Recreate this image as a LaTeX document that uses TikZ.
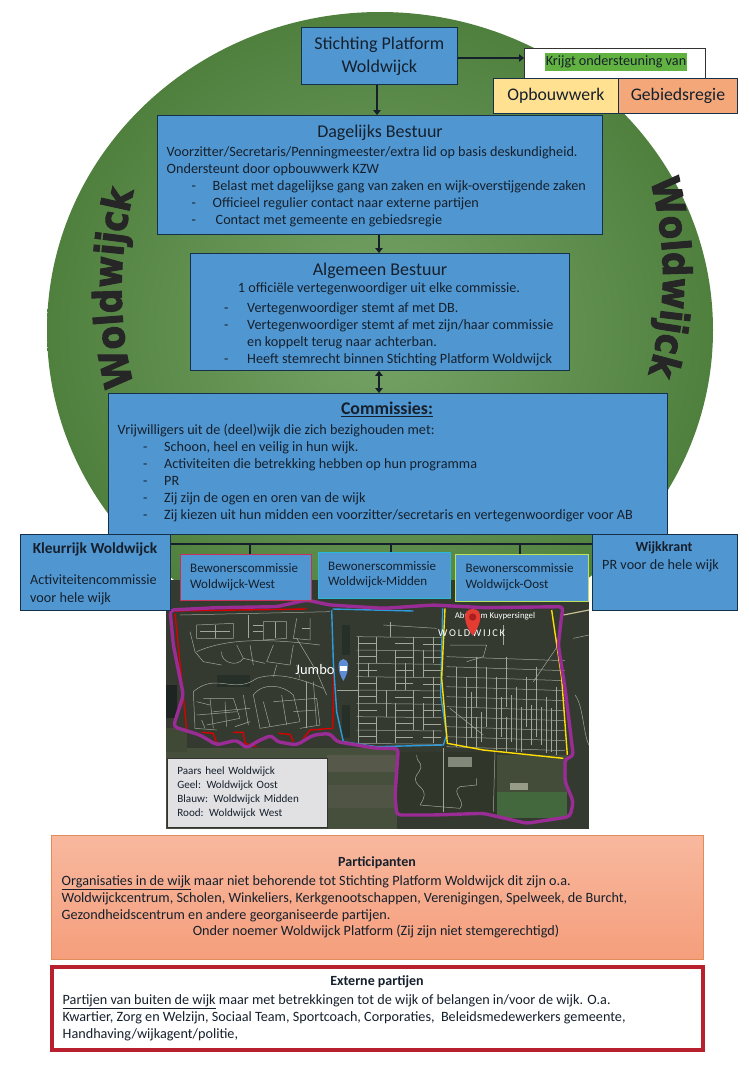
\documentclass[tikz,border=0pt]{standalone}
\usepackage{fontspec}
\setmainfont{Carlito}
\newfontfamily\wafont{DejaVu Sans Bold}[FakeStretch=.88,FakeBold=2.5]
\usetikzlibrary{arrows.meta,decorations.text}
\definecolor{boxblue}{HTML}{5097D2}
\definecolor{boxedge}{HTML}{14304A}
\definecolor{inktext}{HTML}{16202C}
\definecolor{purpleline}{HTML}{9A2C96}
\definecolor{streetc}{HTML}{A2A79A}
\tikzset{
 bluebox/.style={draw=boxedge,line width=.8pt,fill=boxblue,inner sep=0pt,rectangle},
 blk/.style={text=inktext,inner sep=0pt,align=left,anchor=north west,font=\fontsize{14.2}{17}\selectfont},
 ctr/.style={text=inktext,inner sep=0pt,align=center,font=\fontsize{18}{23}\selectfont},
 conn/.style={draw=inktext,line width=2.8pt,-{Triangle[length=5pt,width=7.5pt]}},
 barline/.style={draw=inktext,line width=2.6pt},
 street/.style={draw=streetc,line width=.5pt,line join=round},
 area/.style={purpleline,line width=3.4pt,line join=round,rounded corners=4pt},
}
\newcommand{\dsh}[1]{\makebox[#1][l]{-}}
\begin{document}
\begin{tikzpicture}[x=1pt,y=-1pt]
\useasboundingbox (0,0) rectangle (749,1080);
\fill[white] (0,0) rectangle (749,1080);
% green disc
\shade[inner color={rgb,255:red,118;green,164;blue,104},outer color={rgb,255:red,80;green,128;blue,62}] (380,330) ellipse [x radius=333,y radius=318];
% WordArt text
\path[decorate,decoration={text along path,text align=center,text={|\fontsize{39}{39}\wafont\color{black!85}|Woldwijck}}] (135,390) .. controls (117,325) and (117,255) .. (135,186);
\path[decorate,decoration={text along path,text align=center,text={|\fontsize{39}{39}\wafont\color{black!85}|Woldwijck}}] (649,176) .. controls (668,245) and (668,310) .. (647,378);
% Map
\begin{scope}[xshift=150pt,yshift=-595pt,x=.33333pt,y=-.33333pt]
\clip (48,-45) rectangle (1317,702);
\fill[fill={rgb,255:red,52;green,58;blue,47}] (48,-45) rectangle (1317,702);
% fields south
\fill[fill={rgb,255:red,70;green,78;blue,60}] (48,460) rectangle (740,702);
\fill[fill={rgb,255:red,86;green,88;blue,74}] (530,480) rectangle (740,530);
\fill[fill={rgb,255:red,80;green,84;blue,68}] (530,570) rectangle (740,640);
\fill[fill={rgb,255:red,64;green,72;blue,54}] (48,400) rectangle (110,470);
\fill[fill={rgb,255:red,48;green,54;blue,42}] (740,470) rectangle (1040,660);
\fill[fill={rgb,255:red,68;green,104;blue,62}] (1040,590) rectangle (1250,670);
\fill[fill={rgb,255:red,66;green,76;blue,56}] (1040,480) rectangle (1250,590);
\fill[fill={rgb,255:red,130;green,136;blue,122}] (895,485) rectangle (965,515);
\fill[fill={rgb,255:red,150;green,156;blue,136}] (1080,565) rectangle (1135,585);
\fill[fill={rgb,255:red,30;green,36;blue,34}] (48,270) rectangle (80,370);
\fill[fill={rgb,255:red,38;green,48;blue,40}] (200,240) rectangle (300,275);
\fill[fill={rgb,255:red,38;green,48;blue,40}] (575,90) rectangle (600,180);
\fill[fill={rgb,255:red,38;green,48;blue,40}] (575,330) rectangle (600,430);
% west streets
\draw[street] (90,60) -- (540,50);
\draw[street] (140,170) .. controls (230,130) and (350,130) .. (510,150);
\draw[street] (215,170) .. controls (210,200) and (260,220) .. (280,190) -- (260,150);
\draw[street] (140,90) -- (250,85) -- (250,130) -- (140,130) -- cycle;
\draw[street] (340,80) -- (410,80) -- (410,130) -- (340,135) -- cycle;
\draw[street] (440,70) -- (430,130) -- (480,135) -- (480,70);
\draw[street] (295,60) -- (295,130);
\draw[street] (370,150) -- (350,200) -- (420,210) -- (430,150);
\draw[street] (130,290) .. controls (200,230) and (250,300) .. (320,250) .. controls (380,230) and (450,250) .. (520,280);
\draw[street] (130,290) -- (135,400) -- (200,405);
\draw[street] (160,310) -- (250,310) -- (270,370) -- (170,390);
\draw[street] (310,300) .. controls (340,260) and (400,270) .. (430,300) -- (450,380) -- (330,400) -- cycle;
\draw[street] (190,350) -- (300,340);
\draw[street] (370,320) -- (500,310) -- (510,390) -- (450,400);
\draw[street] (180,310) -- (190,400);
\draw[street] (225,320) -- (230,395);
\draw[street] (470,260) -- (470,400);
\draw[street] (120,110) -- (135,170) -- (160,200) -- (215,210);
\draw[street] (280,190) -- (345,205);
\draw[street] (440,130) -- (500,230) -- (530,300);
\draw[street] (140,320) -- (180,330) (140,360) -- (260,350) (155,375) -- (165,400) (280,300) -- (295,390) (255,395) -- (300,380);
\draw[street] (340,320) -- (360,395) (395,300) -- (410,390) (430,350) -- (500,345) (490,260) -- (500,390);
\draw[street] (310,90) -- (340,90) (310,110) -- (340,110) (150,110) -- (240,110) (195,90) -- (195,130) (375,80) -- (375,130) (455,100) -- (480,100);
\draw[street] (300,150) -- (310,210) (380,210) -- (370,245) (440,210) -- (450,250);
% middle streets
\foreach \yy in {125,165,205,245,285,325,365,405,445} \draw[street] (620,\yy) -- (875,\yy+3);
\foreach \yy in {145,185,225,265,305,345,385,425} \draw[street] (625,\yy) -- (680,\yy) (735,\yy+1) -- (790,\yy+1) (820,\yy+2) -- (872,\yy+2);
\foreach \xx/\ya/\yb in {625/125/445,680/125/205,680/245/325,680/365/445,735/165/285,735/325/445,790/125/245,790/285/405,850/125/205,850/245/365,850/405/445,655/205/245,710/285/365,765/205/285,820/325/405,820/165/245} \draw[street] (\xx,\ya) -- (\xx,\yb);
\draw[street] (560,285) -- (625,285);
\draw[street] (700,90) -- (860,100);
\draw[street] (720,80) -- (720,125);
\draw[street] (800,480) .. controls (800,510) and (830,500) .. (800,540) .. controls (780,580) and (850,570) .. (810,630) -- (930,640) .. controls (950,620) and (900,590) .. (930,575) -- (980,570) -- (980,550);
\draw[street] (880,460) -- (880,650);
\draw[street] (1035,470) -- (1030,650);
% east streets
\foreach \yy in {185,215,245,275,305,335,365,395,425,455} \draw[street] (890,\yy) -- (1245,\yy+12);
\foreach \xx/\ya/\yb in {920/215/455,950/245/455,980/185/335,980/365/455,1010/215/395,1040/245/465,1070/185/335,1070/365/470,1100/275/470,1130/245/395,1160/215/425,1190/305/475,1220/275/480,1115/335/470,1175/335/450,1055/305/425,1145/330/450,1205/340/470,1085/300/440,995/350/440,965/290/430} \draw[street] (\xx,\ya) -- (\xx,\yb);
\draw[street] (900,150) -- (1010,150) -- (1000,185) -- (950,200);
\draw[street] (1150,260) -- (1225,150);
\draw[street] (900,340) -- (1000,420);
\draw[street] (1060,90) -- (1060,150);
\draw[street] (1270,130) -- (1317,120);
\draw[street] (1275,300) .. controls (1300,330) and (1300,420) .. (1317,450);
\draw[draw={rgb,255:red,200;green,190;blue,150},line width=1.2pt] (1240,60) -- (1317,45);
% coloured boundaries
\draw[red!85!black,line width=1.4pt] (60,48) -- (470,42);
\draw[red!85!black,line width=1.4pt] (75,55) -- (110,405);
\draw[red!85!black,line width=1.4pt] (552,230) -- (548,400) -- (480,405) -- (460,430);
\draw[red!85!black,line width=1.4pt] (155,412) -- (190,415) -- (200,445) (250,412) -- (280,412) -- (285,445) -- (320,455) (385,415) -- (420,418) -- (430,440);
\draw[cyan!75!blue!85!white,line width=1.4pt] (548,42) -- (790,48);
\draw[cyan!75!blue!85!white,line width=1.4pt] (545,45) -- (550,200) -- (560,350) -- (580,440) -- (680,455) -- (880,450) -- (890,420) -- (872,300) -- (878,40);
\draw[yellow!80!orange,line width=1.4pt] (885,40) -- (875,250) -- (892,445) -- (1000,465) -- (1240,490);
\draw[yellow!80!orange,line width=1.4pt] (1205,45) -- (1235,250) -- (1252,480);
% labels on the map
\node[text=white,inner sep=0pt,font=\fontsize{14.5}{14.5}\selectfont] (jumbolabel) at (495,225) {Jumbo};
\node[text=white,inner sep=0pt,font=\fontsize{8.8}{10}\selectfont] (streetlabel) at (1035,65) {Abraham Kuypersingel};
\node[text=white,inner sep=0pt,font=\fontsize{10.4}{10}\selectfont] (wijklabel) at (965,115) {W\,O\,L\,D\,W\,I\,J\,C\,K};
\fill[fill={rgb,255:red,92;green,140;blue,214}] (580,258) .. controls (560,225) and (562,192) .. (580,192) .. controls (598,192) and (600,225) .. (580,258);
\fill[fill=white] (570,212) rectangle (590,228);
\fill[fill={rgb,255:red,228;green,60;blue,50}] (968,122) .. controls (940,85) and (935,42) .. (968,42) .. controls (1001,42) and (996,85) .. (968,122);
\fill[fill={rgb,255:red,170;green,30;blue,30}] (968,66) circle [radius=11];
% purple boundary
\draw[area] (60,45) -- (200,38) -- (380,35) -- (470,15) -- (540,30) -- (700,40) -- (850,30) -- (1000,38) -- (1240,35) -- (1235,60) -- (1225,150) -- (1245,280) -- (1260,400) -- (1270,485) -- (1245,490) -- (1245,560) -- (1270,620) -- (1260,665) -- (1130,685) -- (1000,655) -- (850,660) -- (740,660) -- (735,600) -- (745,460) -- (680,460) -- (560,440) -- (540,415) -- (490,420) -- (440,450) -- (380,440) -- (365,420) -- (320,440) -- (290,460) -- (260,435) -- (200,450) -- (150,420) -- (70,395) -- (100,300) -- (70,150) -- cycle;
\end{scope}
% map legend
\node[draw=black!80,line width=.8pt,fill={rgb,255:red,225;green,225;blue,228},text=inktext,inner sep=0pt,align=left,anchor=north west,minimum width=160pt,minimum height=69pt,text width=140pt,font=\fontsize{11.1}{14}\selectfont] (legend) at (167,758) {Paars heel Woldwijck\\Geel: Woldwijck Oost\\Blauw: Woldwijck Midden\\Rood: Woldwijck West};
% main boxes
\node[bluebox,minimum width=156pt,minimum height=57pt,anchor=north west,ctr] (stichting) at (301,27) {Stichting Platform\\Woldwijck};
\node[draw=black!80,fill=white,line width=.8pt,minimum width=181pt,minimum height=30pt,anchor=north west,inner sep=0pt] (krijgt) at (524,48) {};
\node[fill={rgb,255:red,98;green,178;blue,66},text=inktext,inner sep=0pt,minimum width=142pt,minimum height=18pt,font=\fontsize{14.2}{15}\selectfont] (krijgttext) at (616,62) {Krijgt ondersteuning van};
\node[draw=boxedge,line width=.8pt,fill={rgb,255:red,255;green,225;blue,145},text=inktext,minimum width=125pt,minimum height=35pt,anchor=north west,inner sep=0pt,font=\fontsize{17.7}{17}\selectfont] (opbouw) at (493,78) {Opbouwwerk};
\node[draw=boxedge,line width=.8pt,fill={rgb,255:red,244;green,168;blue,122},text=inktext,minimum width=119pt,minimum height=35pt,anchor=north west,inner sep=0pt,font=\fontsize{17.7}{17}\selectfont] (gebied) at (618,78) {Gebiedsregie};

\node[bluebox,minimum width=445pt,minimum height=119pt,anchor=north west] (db) at (157,115) {};
\node[ctr] (dbtitle) at (380,133) {Dagelijks Bestuur};
\node[blk] (dbtext) at (166.5,146) {Voorzitter/Secretaris/Penningmeester/extra lid op basis deskundigheid.\\Ondersteunt door opbouwwerk KZW\\\hspace*{25pt}\dsh{21pt}Belast met dagelijkse gang van zaken en wijk-overstijgende zaken\\\hspace*{25pt}\dsh{21pt}Officieel regulier contact naar externe partijen\\\hspace*{25pt}\dsh{24pt}Contact met gemeente en gebiedsregie};

\node[bluebox,minimum width=379pt,minimum height=117pt,anchor=north west] (ab) at (190,253) {};
\node[ctr] (abtitle) at (380,271) {Algemeen Bestuur};
\node[blk,anchor=center] (abintro) at (379,289) {1 officiële vertegenwoordiger uit elke commissie.};
\node[blk] (abtext) at (224,302) {\dsh{23pt}Vertegenwoordiger stemt af met DB.\\\dsh{23pt}Vertegenwoordiger stemt af met zijn/haar commissie\\\hspace*{23pt}en koppelt terug naar achterban.\\\dsh{23pt}Heeft stemrecht binnen Stichting Platform Woldwijck};

\node[bluebox,minimum width=559pt,minimum height=141pt,anchor=north west] (com) at (108,393) {};
\node[ctr,font=\bfseries\fontsize{17.8}{18}\selectfont] (comtitle) at (387,409) {\underline{Commissies:}};
\node[blk] (comtext) at (117.5,424) {Vrijwilligers uit de (deel)wijk die zich bezighouden met:\\\hspace*{25.5pt}\dsh{21pt}Schoon, heel en veilig in hun wijk.\\\hspace*{25.5pt}\dsh{21pt}Activiteiten die betrekking hebben op hun programma\\\hspace*{25.5pt}\dsh{21pt}PR\\\hspace*{25.5pt}\dsh{21pt}Zij zijn de ogen en oren van de wijk\\\hspace*{25.5pt}\dsh{21pt}Zij kiezen uit hun midden een voorzitter/secretaris en vertegenwoordiger voor AB};

\node[bluebox,minimum width=150pt,minimum height=76pt,anchor=north west] (kleur) at (20,534) {};
\node[ctr,font=\bfseries\fontsize{15.4}{16}\selectfont] (kleurtitle) at (95,549) {Kleurrijk Woldwijck};
\node[blk,font=\fontsize{14.2}{18}\selectfont] (kleurtext) at (30,574) {Activiteitencommissie\\voor hele wijk};
\node[bluebox,minimum width=145pt,minimum height=76pt,anchor=north west] (krant) at (592,534) {};
\node[ctr,font=\bfseries\fontsize{14}{14}\selectfont] (kranttitle) at (664,548) {Wijkkrant};
\node[blk,anchor=west,font=\fontsize{14.2}{15}\selectfont] (kranttext) at (602,566) {PR voor de hele wijk};

\node[bluebox,draw={rgb,255:red,200;green,50;blue,90},minimum width=131pt,minimum height=46pt,anchor=north west] (west) at (180,554) {};
\node[blk,font=\fontsize{13}{16}\selectfont] (westtext) at (190,563) {Bewonerscommissie\\Woldwijck-West};
\node[bluebox,draw={rgb,255:red,40;green,185;blue,215},line width=1.2pt,minimum width=132pt,minimum height=46pt,anchor=north west] (midden) at (318,552) {};
\node[blk,font=\fontsize{13}{15.5}\selectfont] (middentext) at (328,561) {Bewonerscommissie\\Woldwijck-Midden};
\node[bluebox,draw={rgb,255:red,190;green,225;blue,90},line width=1.2pt,minimum width=133pt,minimum height=47pt,anchor=north west] (oost) at (455,554) {};
\node[blk,font=\fontsize{13}{16}\selectfont] (oosttext) at (465.5,563) {Bewonerscommissie\\Woldwijck-Oost};

% Bottom boxes
\node[draw={rgb,255:red,226;green,140;blue,92},line width=.8pt,top color={rgb,255:red,248;green,184;blue,158},bottom color={rgb,255:red,245;green,158;blue,124},minimum width=652pt,minimum height=124pt,anchor=north west,inner sep=0pt] (part) at (51,835) {};
\node[ctr,font=\bfseries\fontsize{14}{14}\selectfont] (parttitle) at (377,863) {Participanten};
\node[blk] (parttext) at (61.5,875) {\underline{Organisaties in de wijk} maar niet behorende tot Stichting Platform Woldwijck dit zijn o.a.\\Woldwijckcentrum, Scholen, Winkeliers, Kerkgenootschappen, Verenigingen, Spelweek, de Burcht,\\Gezondheidscentrum en andere georganiseerde partijen.};
\node[blk,anchor=center] (partlast) at (376,932) {Onder noemer Woldwijck Platform (Zij zijn niet stemgerechtigd)};
\node[draw={rgb,255:red,184;green,32;blue,46},line width=4pt,fill=white,minimum width=651pt,minimum height=83pt,anchor=north west,inner sep=0pt] (ext) at (50,965) {};
\node[ctr,font=\bfseries\fontsize{14}{14}\selectfont] (exttitle) at (377,982) {Externe partijen};
\node[blk] (exttext) at (62.5,994) {\underline{Partijen van buiten de wijk} maar met betrekkingen tot de wijk of belangen in/voor de wijk. O.a.\\Kwartier, Zorg en Welzijn, Sociaal Team, Sportcoach, Corporaties,\ \ Beleidsmedewerkers gemeente,\\Handhaving/wijkagent/politie,};

% Connectors
\draw[conn] (stichting.south -| 377,0) -- (db.north -| 377,0);
\draw[conn] (stichting.east |- 0,58) -- (krijgt.west |- 0,58);
\draw[conn] (db.south -| 379,0) -- (ab.north -| 379,0);
\draw[conn,{Triangle[length=5pt,width=7.5pt]}-{Triangle[length=5pt,width=7.5pt]}] (ab.south -| 379,0) -- (com.north -| 379,0);
\draw[barline] (kleur.east |- 0,544) -- (krant.west |- 0,544);
\draw[barline] (west.north -| 250,0) -- (250,544);
\draw[barline] (midden.north -| 391,0) -- (391,544);
\draw[barline] (oost.north -| 520,0) -- (520,544);
\end{tikzpicture}
\end{document}
